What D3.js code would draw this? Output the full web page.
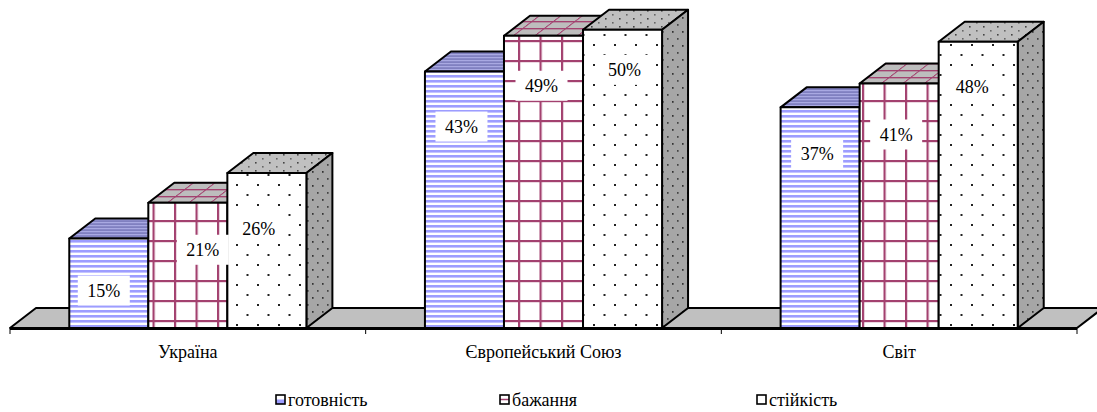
<!DOCTYPE html>
<html>
<head>
<meta charset="utf-8">
<script src="https://cdn.jsdelivr.net/npm/d3@7"></script>
<style>
  html, body { margin: 0; padding: 0; background: #fff; }
  svg { display: block; }
</style>
</head>
<body>
<svg id="chart" width="1097" height="412"></svg>
<script>
// Categories and series values (percent)
const categories = ["Україна", "Європейський Союз", "Світ"];
const seriesNames = ["готовність", "бажання", "стійкість"];
const readiness = [15, 43, 37];
const desire = [21, 49, 41];
const resilience = [26, 50, 48];

// Small hand-placed offsets for the value labels [dx, dy], per series per category
const labelNudge = [
  [[-5, 2], [-3, 5], [-3, -4]],
  [[15, -3], [-2, 0], [-3, 1]],
  [[-8, 6], [2, -10], [-6, -5]]
];

const serif = "'Liberation Serif', 'DejaVu Serif', 'Times New Roman', serif";
const series = [readiness, desire, resilience];
const styles = [
  { front: "url(#stripes)", top: "url(#stripesTop)", side: "url(#stripesTop)" },
  { front: "url(#grid)", top: "url(#gridTop)", side: "url(#gridTop)" },
  { front: "url(#dots)", top: "url(#dotsTop)", side: "url(#dotsSide)" }
];

const svg = d3.select("#chart");
const defs = svg.append("defs");

// Horizontal blue stripes
let p = defs.append("pattern").attr("id", "stripes").attr("patternUnits", "userSpaceOnUse")
  .attr("width", 8).attr("height", 5);
p.append("rect").attr("width", 8).attr("height", 5).attr("fill", "#fff");
p.append("rect").attr("y", 0).attr("width", 8).attr("height", 2.6).attr("fill", "#9d9dff");

p = defs.append("pattern").attr("id", "stripesTop").attr("patternUnits", "userSpaceOnUse")
  .attr("width", 8).attr("height", 3);
p.append("rect").attr("width", 8).attr("height", 3).attr("fill", "#8080c0");
p.append("rect").attr("y", 0).attr("width", 8).attr("height", 1.2).attr("fill", "#a9a9e2");

// Plum square grid
p = defs.append("pattern").attr("id", "grid").attr("patternUnits", "userSpaceOnUse")
  .attr("width", 21.5).attr("height", 20).attr("x", 2).attr("y", 0);
p.append("rect").attr("width", 21.5).attr("height", 20).attr("fill", "#fff");
p.append("rect").attr("x", 0).attr("width", 2.2).attr("height", 20).attr("fill", "#a3416f");
p.append("rect").attr("y", 0).attr("width", 21.5).attr("height", 2.2).attr("fill", "#a3416f");

p = defs.append("pattern").attr("id", "gridTop").attr("patternUnits", "userSpaceOnUse")
  .attr("width", 21.5).attr("height", 7)
  .attr("patternTransform", "skewX(-52.4)");
p.append("rect").attr("width", 21.5).attr("height", 7).attr("fill", "#bdbdbd");
p.append("rect").attr("x", 0).attr("width", 1.6).attr("height", 7).attr("fill", "#a3416f");
p.append("rect").attr("y", 0).attr("width", 21.5).attr("height", 1.4).attr("fill", "#a3416f");

// Staggered black dots
p = defs.append("pattern").attr("id", "dots").attr("patternUnits", "userSpaceOnUse")
  .attr("width", 21).attr("height", 20);
p.append("rect").attr("width", 21).attr("height", 20).attr("fill", "#fff");
p.append("rect").attr("x", 5).attr("y", 4).attr("width", 2).attr("height", 2).attr("fill", "#222");
p.append("rect").attr("x", 15.5).attr("y", 14).attr("width", 2).attr("height", 2).attr("fill", "#222");

p = defs.append("pattern").attr("id", "dotsTop").attr("patternUnits", "userSpaceOnUse")
  .attr("width", 14).attr("height", 8);
p.append("rect").attr("width", 14).attr("height", 8).attr("fill", "#c0c0c0");
p.append("rect").attr("x", 3).attr("y", 2).attr("width", 1.6).attr("height", 1.6).attr("fill", "#444");
p.append("rect").attr("x", 10).attr("y", 6).attr("width", 1.6).attr("height", 1.6).attr("fill", "#666");

p = defs.append("pattern").attr("id", "dotsSide").attr("patternUnits", "userSpaceOnUse")
  .attr("width", 10).attr("height", 14);
p.append("rect").attr("width", 10).attr("height", 14).attr("fill", "#a6a6a6");
p.append("rect").attr("x", 2).attr("y", 3).attr("width", 1.6).attr("height", 1.8).attr("fill", "#333");
p.append("rect").attr("x", 7).attr("y", 10).attr("width", 1.6).attr("height", 1.8).attr("fill", "#444");

// Scales
const x0 = d3.scaleBand().domain(categories).range([10, 1077]).paddingInner(0).paddingOuter(0);
const x1 = d3.scaleBand().domain(seriesNames).range([0, x0.bandwidth()]).paddingInner(0).paddingOuter(0.75);
const y = d3.scaleLinear().domain([0, 55]).range([328, 0]);
const depthX = 26, depthY = 20;
const base = y(0);

// Floor
const [fx0, fx1] = x0.range();
svg.append("polygon")
  .attr("points", [[fx0, base], [fx0 + depthX, base - depthY], [fx1 + depthX, base - depthY], [fx1, base]].join(" "))
  .attr("fill", "#c0c0c0").attr("stroke", "#000").attr("stroke-width", 2).attr("stroke-linejoin", "round");

// Bars (drawn left to right so each front face hides the previous side)
const bars = svg.append("g");
categories.forEach((cat, ci) => {
  seriesNames.forEach((s, si) => {
    const v = series[si][ci];
    const x = x0(cat) + x1(s);
    const w = x1.bandwidth();
    const yt = y(v);
    const g = bars.append("g").attr("stroke", "#000").attr("stroke-width", 2).attr("stroke-linejoin", "round");
    g.append("polygon")
      .attr("points", [[x, yt], [x + depthX, yt - depthY], [x + w + depthX, yt - depthY], [x + w, yt]].join(" "))
      .attr("fill", styles[si].top);
    g.append("polygon")
      .attr("points", [[x + w, yt], [x + w + depthX, yt - depthY], [x + w + depthX, base - depthY], [x + w, base]].join(" "))
      .attr("fill", styles[si].side);
    g.append("rect")
      .attr("x", x).attr("y", yt).attr("width", w).attr("height", base - yt)
      .attr("fill", styles[si].front);
  });
});

// Axis line with boundary ticks
svg.append("line").attr("x1", fx0).attr("x2", fx1).attr("y1", base + 1).attr("y2", base + 1)
  .attr("stroke", "#000").attr("stroke-width", 2);
const edges = categories.map(c => x0(c)).concat([fx1]);
svg.selectAll("line.tick").data(edges).join("line").attr("class", "tick")
  .attr("x1", d => d).attr("x2", d => d).attr("y1", base + 1).attr("y2", base + 6)
  .attr("stroke", "#000").attr("stroke-width", 1);

// Category labels
const axis = svg.append("g").attr("transform", `translate(0,${base + 1})`)
  .call(d3.axisBottom(x0).tickSize(0).tickPadding(16));
axis.select(".domain").remove();
axis.attr("font-family", null).attr("font-size", null);
axis.selectAll("text").style("font-family", serif).style("font-size", "18px").attr("fill", "#000");

// Value labels
const labels = svg.append("g");
categories.forEach((cat, ci) => {
  seriesNames.forEach((s, si) => {
    const v = series[si][ci];
    const [ndx, ndy] = labelNudge[si][ci];
    const cx = x0(cat) + x1(s) + x1.bandwidth() / 2 + ndx;
    const cy = y(v) + 50 + ndy;
    labels.append("rect").attr("x", cx - 26).attr("y", cy - 15).attr("width", 52).attr("height", 30).attr("fill", "#fff");
    labels.append("text").attr("x", cx).attr("y", cy).attr("dy", "0.35em")
      .attr("text-anchor", "middle").style("font-family", serif).style("font-size", "18px").text(v + "%");
  });
});

// Legend
const legendX = [276, 500, 757];
const legend = svg.append("g");
seriesNames.forEach((s, i) => {
  const g = legend.append("g").attr("transform", `translate(${legendX[i]},395)`);
  g.append("rect").attr("width", 9).attr("height", 9).attr("fill", "#fff");
  if (i === 0) g.append("rect").attr("y", 4.5).attr("width", 9).attr("height", 4.5).attr("fill", "#9d9dff");
  if (i === 1) g.append("line").attr("x1", 0).attr("x2", 9).attr("y1", 4.5).attr("y2", 4.5).attr("stroke", "#a3416f").attr("stroke-width", 1.5);
  g.append("rect").attr("width", 9).attr("height", 9).attr("fill", "none").attr("stroke", "#000").attr("stroke-width", 1.6);
  g.append("text").attr("x", 12).attr("y", 4.5).attr("dy", "0.35em")
    .style("font-family", serif).style("font-size", "18px").text(s);
});
</script>
</body>
</html>
